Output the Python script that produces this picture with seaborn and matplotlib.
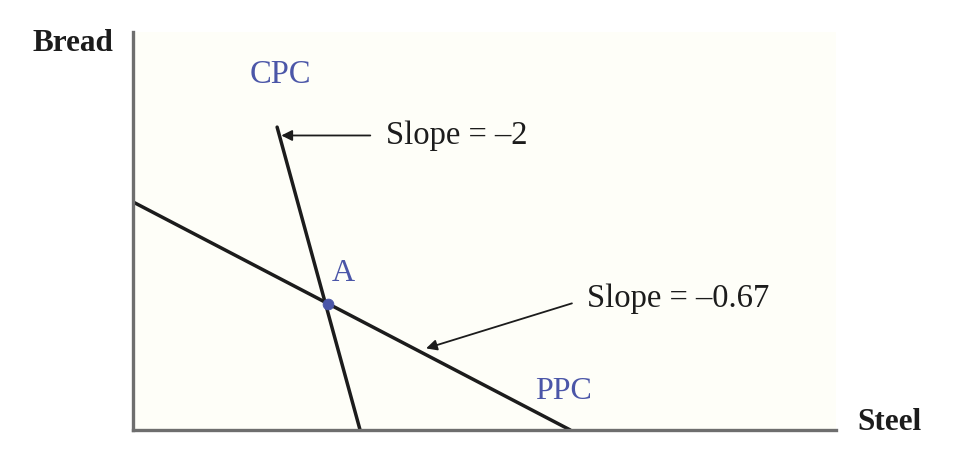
import matplotlib
matplotlib.use('Agg')
import matplotlib.pyplot as plt
import pandas as pd
import seaborn as sns

# Curve end points (arbitrary units, axes run 0..100)
ppc_x = [0, 62.2]
ppc_y = [57.3, 0]
cpc_x = [20.5, 32.3]
cpc_y = [76.1, 0]
point_a = (27.8, 31.6)

cpc_slope_label = 'Slope = \u20132'
ppc_slope_label = 'Slope = \u20130.67'

sns.set_style('white')
plt.rcParams['font.family'] = ['Liberation Serif', 'DejaVu Serif']

blue = '#4b56a8'
ink = '#1c1c1c'

fig = plt.figure(figsize=(9.68, 4.66), dpi=100)
fig.patch.set_facecolor('white')
ax = fig.add_axes([133 / 968, 36 / 466, 703 / 968, 398 / 466])
ax.set_facecolor('#fefef8')

df_ppc = pd.DataFrame({'x': ppc_x, 'y': ppc_y})
df_cpc = pd.DataFrame({'x': cpc_x, 'y': cpc_y})
sns.lineplot(data=df_ppc, x='x', y='y', ax=ax, color=ink, lw=2.5, sort=False)
sns.lineplot(data=df_cpc, x='x', y='y', ax=ax, color=ink, lw=2.5, sort=False)
sns.scatterplot(x=[point_a[0]], y=[point_a[1]], ax=ax, color=blue, s=60,
                edgecolor=blue, zorder=5)

ax.set_xlim(0, 100)
ax.set_ylim(0, 100)
ax.set_xticks([])
ax.set_yticks([])
ax.set_xlabel('')
ax.set_ylabel('')
sns.despine(ax=ax)
for side in ['left', 'bottom']:
    ax.spines[side].set_color('#6e6e6e')
    ax.spines[side].set_linewidth(2.4)

# axis titles
ax.text(-2.8, 97, 'Bread', ha='right', va='center', fontsize=22.5,
        fontweight='bold', color=ink)
ax.text(103, 2.0, 'Steel', ha='left', va='center', fontsize=22.5,
        fontweight='bold', color=ink)

# curve labels
ax.text(20.9, 89.2, 'CPC', ha='center', va='center', fontsize=23.5, color=blue)
ax.text(61.3, 9.6, 'PPC', ha='center', va='center', fontsize=23, color=blue)
ax.text(29.9, 39.4, 'A', ha='center', va='center', fontsize=23, color=blue)

arrow = dict(arrowstyle='-|>', color=ink, lw=1.3, mutation_scale=16,
             relpos=(0, 0.5), shrinkA=9, shrinkB=1)
ax.annotate(cpc_slope_label, xy=(20.9, 74.0), xytext=(36.0, 74.0),
            ha='left', va='center', fontsize=23.5, color=ink, arrowprops=arrow)
ax.annotate(ppc_slope_label, xy=(41.5, 20.4), xytext=(64.6, 33.0),
            ha='left', va='center', fontsize=23.5, color=ink, arrowprops=arrow)

fig.savefig('out.png', dpi=100)
